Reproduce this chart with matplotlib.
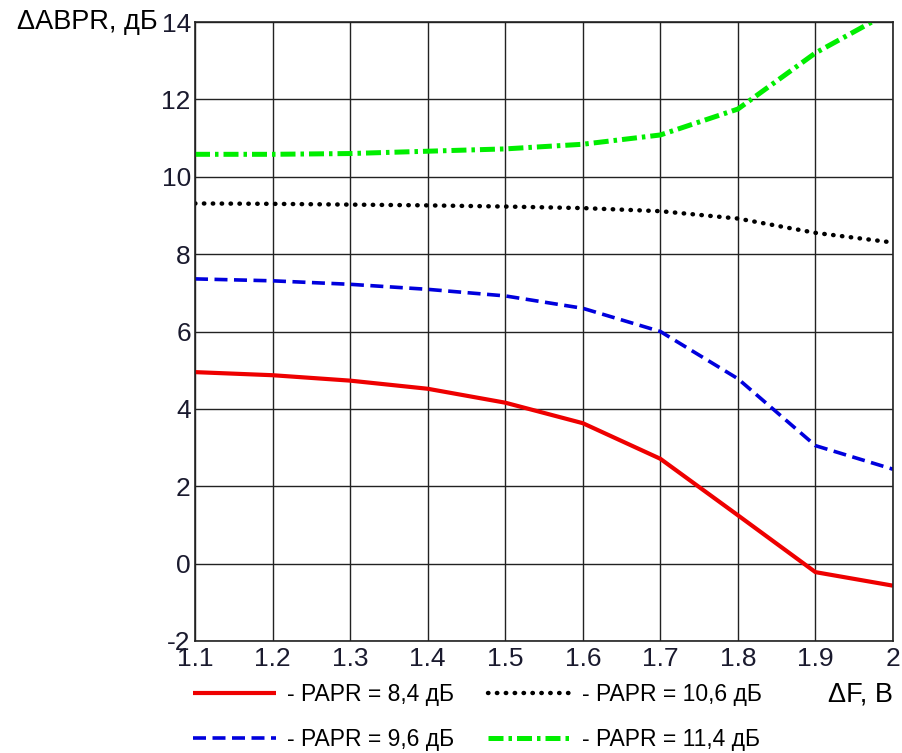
import matplotlib
matplotlib.use('Agg')
from matplotlib import pyplot as plt
from matplotlib.ticker import FixedLocator

plt.rcParams['font.family'] = ['Liberation Sans', 'DejaVu Sans']
plt.rcParams['axes.unicode_minus'] = False

df = [1.1, 1.2, 1.3, 1.4, 1.5, 1.6, 1.7, 1.8, 1.9, 2.0]
papr_84 = [4.95, 4.87, 4.73, 4.52, 4.16, 3.63, 2.71, 1.25, -0.22, -0.57]
papr_96 = [7.36, 7.31, 7.22, 7.09, 6.92, 6.6, 6.0, 4.78, 3.05, 2.44]
papr_106 = [9.31, 9.3, 9.28, 9.26, 9.23, 9.19, 9.11, 8.92, 8.55, 8.3]
papr_114 = [10.58, 10.58, 10.6, 10.66, 10.72, 10.84, 11.08, 11.75, 13.2, 14.3]

xticks = [1.1, 1.2, 1.3, 1.4, 1.5, 1.6, 1.7, 1.8, 1.9, 2.0]
xtick_labels = ['1.1', '1.2', '1.3', '1.4', '1.5', '1.6', '1.7', '1.8', '1.9', '2']
yticks = [-2, 0, 2, 4, 6, 8, 10, 12, 14]

fig = plt.figure(figsize=(9.03, 7.53), dpi=100)
ax = fig.add_axes([195 / 903, 1 - 641 / 753, 698 / 903, 619 / 753])

l1, = ax.plot(df, papr_84, color='#ee0000', lw=3.0, solid_capstyle='butt',
              label='- PAPR = 8,4 дБ')
l2, = ax.plot(df, papr_96, color='#0000dd', lw=2.6, dashes=(3.6, 1.8),
              label='- PAPR = 9,6 дБ')
l3, = ax.plot(df, papr_106, color='black', lw=3.2, dashes=(0.1, 1.9),
              dash_capstyle='round', label='- PAPR = 10,6 дБ')
l4, = ax.plot(df, papr_114, color='#00ee00', lw=3.6, dashes=(3.0, 1.0, 0.7, 1.0),
              label='- PAPR = 11,4 дБ')

ax.set_xlim(1.1, 2.0)
ax.set_ylim(-2, 14)
ax.xaxis.set_major_locator(FixedLocator(xticks))
ax.set_xticklabels(xtick_labels)
ax.set_yticks(yticks)
ax.grid(True, color='#222222', lw=1.0)
ax.tick_params(length=0, labelsize=19, colors='#1a1a2e')
ax.tick_params(axis='x', pad=4)
ax.tick_params(axis='y', pad=3)
for s in ax.spines.values():
    s.set_color('#222222')
    s.set_linewidth(1.2)

ax.set_ylabel('ΔABPR, дБ', rotation=0, fontsize=19.5, ha='right', va='center')
ax.yaxis.set_label_coords(-0.053, 1.0)
ax.set_xlabel('ΔF, B', fontsize=19.5, ha='right', va='center')
ax.xaxis.set_label_coords(1.0, -0.086)

fig.legend(handles=[l1, l2, l3, l4], ncol=2, loc='upper left',
           bbox_to_anchor=(193 / 903, 1 - 683 / 753), frameon=False,
           fontsize=16.5, handlelength=3.6, handletextpad=0.5,
           labelspacing=0.95, columnspacing=1.5, borderpad=0, borderaxespad=0)

fig.savefig('out.png', dpi=100)
